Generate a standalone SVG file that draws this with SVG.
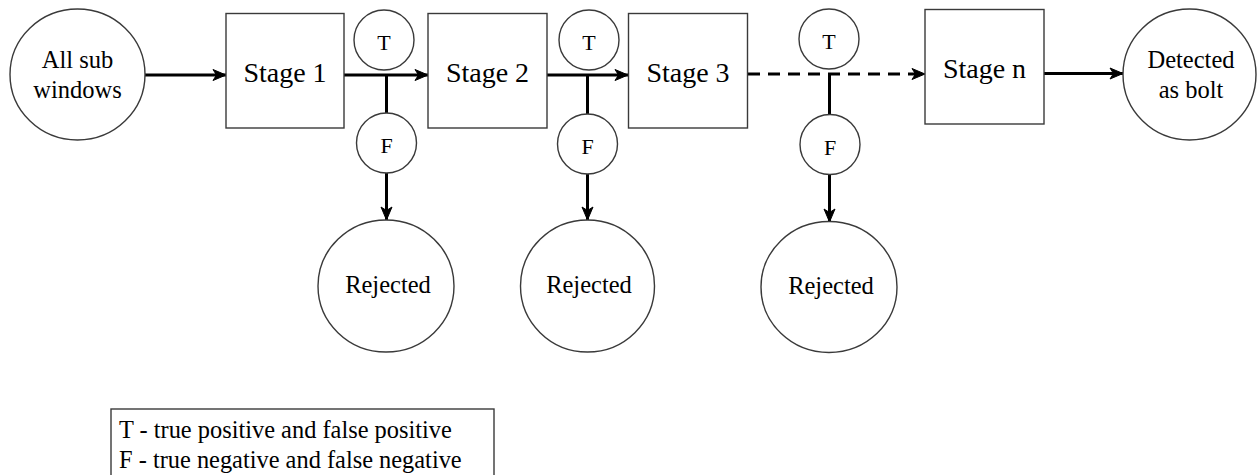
<svg xmlns="http://www.w3.org/2000/svg" width="1257" height="475" viewBox="0 0 1257 475">
<style>
  .shape { fill: #ffffff; stroke: #3a3a3a; stroke-width: 1.4; }
  .lbl { font-family: "Liberation Serif", "Times New Roman", serif; fill: #000; text-anchor: middle; }
  .big { font-size: 28px; }
  .mid { font-size: 24.5px; }
  .tf { font-size: 22px; }
  .conn { stroke: #000; stroke-width: 3; fill: none; }
  .dash { stroke-dasharray: 12 8; }
  .legend { font-family: "Liberation Serif", "Times New Roman", serif; font-size: 24.4px; fill: #000; }
</style>
<defs>
  <marker id="arr" markerUnits="userSpaceOnUse" markerWidth="18" markerHeight="14" refX="15" refY="7" orient="auto">
    <path d="M2,1.5 L15,7 L2,12.5 L5.5,7 Z" fill="#000" stroke="#000" stroke-width="1" stroke-linejoin="miter"/>
  </marker>
</defs>

<g id="connectors">
  <line class="conn" x1="145" y1="75" x2="226" y2="75" marker-end="url(#arr)"/>
  <line class="conn" x1="344" y1="75" x2="428" y2="75" marker-end="url(#arr)"/>
  <line class="conn" x1="547" y1="75" x2="628" y2="75" marker-end="url(#arr)"/>
  <line class="conn dash" x1="748" y1="74" x2="925" y2="74" marker-end="url(#arr)"/>
  <line class="conn" x1="1044" y1="73.5" x2="1123" y2="73.5" marker-end="url(#arr)"/>
  <line class="conn" x1="386.5" y1="75" x2="386.5" y2="113"/>
  <line class="conn" x1="386.5" y1="173" x2="386.5" y2="220" marker-end="url(#arr)"/>
  <line class="conn" x1="587.5" y1="75" x2="587.5" y2="114"/>
  <line class="conn" x1="587.5" y1="174" x2="587.5" y2="220" marker-end="url(#arr)"/>
  <line class="conn" x1="829.5" y1="74" x2="829.5" y2="115"/>
  <line class="conn" x1="829.5" y1="174" x2="829.5" y2="222" marker-end="url(#arr)"/>
</g>

<g id="all-sub-windows">
  <ellipse class="shape" cx="77.5" cy="74.5" rx="67.5" ry="65.5"/>
  <text class="lbl mid" x="77.5" y="68">All sub</text>
  <text class="lbl mid" x="77.5" y="98">windows</text>
</g>

<g id="stage-1">
  <rect class="shape" x="226" y="13.5" width="118" height="114.5"/>
  <text class="lbl big" x="285" y="82">Stage 1</text>
</g>
<g id="t1">
  <circle class="shape" cx="384" cy="40" r="30"/>
  <text class="lbl tf" x="384" y="50">T</text>
</g>
<g id="f1">
  <circle class="shape" cx="386.5" cy="143" r="30"/>
  <text class="lbl tf" x="386.5" y="153">F</text>
</g>
<g id="rejected-1">
  <ellipse class="shape" cx="386" cy="286" rx="68" ry="66"/>
  <text class="lbl mid" x="388" y="293">Rejected</text>
</g>

<g id="stage-2">
  <rect class="shape" x="428" y="13.5" width="119" height="114.5"/>
  <text class="lbl big" x="487.5" y="82">Stage 2</text>
</g>
<g id="t2">
  <circle class="shape" cx="589" cy="40" r="30"/>
  <text class="lbl tf" x="589" y="50">T</text>
</g>
<g id="f2">
  <circle class="shape" cx="587.5" cy="144" r="30"/>
  <text class="lbl tf" x="587.5" y="154">F</text>
</g>
<g id="rejected-2">
  <ellipse class="shape" cx="587.5" cy="286" rx="67" ry="66"/>
  <text class="lbl mid" x="589" y="293">Rejected</text>
</g>

<g id="stage-3">
  <rect class="shape" x="628.5" y="13.5" width="119" height="114.5"/>
  <text class="lbl big" x="688" y="82">Stage 3</text>
</g>
<g id="t3">
  <circle class="shape" cx="829" cy="39" r="30"/>
  <text class="lbl tf" x="829" y="49">T</text>
</g>
<g id="f3">
  <circle class="shape" cx="830" cy="144.5" r="30"/>
  <text class="lbl tf" x="830" y="154.5">F</text>
</g>
<g id="rejected-3">
  <ellipse class="shape" cx="829" cy="287" rx="68" ry="65.5"/>
  <text class="lbl mid" x="831" y="294">Rejected</text>
</g>

<g id="stage-n">
  <rect class="shape" x="925" y="9.5" width="119" height="114.5"/>
  <text class="lbl big" x="984.5" y="78">Stage n</text>
</g>

<g id="detected-as-bolt">
  <ellipse class="shape" cx="1189.5" cy="74.5" rx="66.5" ry="65.5"/>
  <text class="lbl mid" x="1191" y="68">Detected</text>
  <text class="lbl mid" x="1191" y="98">as bolt</text>
</g>

<g id="legend">
  <rect class="shape" x="111" y="409" width="383" height="80"/>
  <text class="legend" x="119" y="438">T - true positive and false positive</text>
  <text class="legend" x="119" y="468">F - true negative and false negative</text>
</g>
</svg>
